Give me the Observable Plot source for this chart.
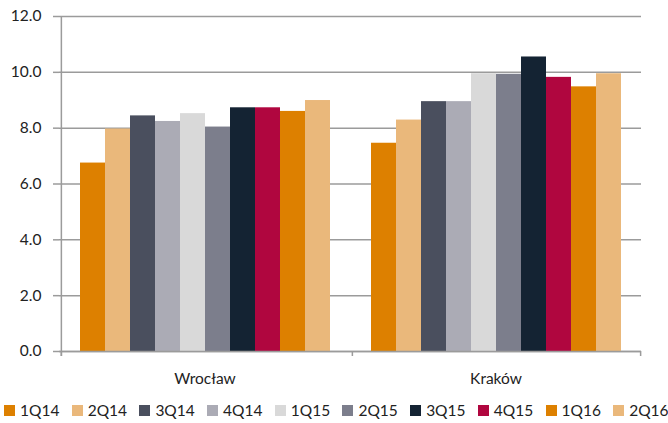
<!DOCTYPE html>
<html>
<head>
<meta charset="utf-8">
<script src="https://cdn.jsdelivr.net/npm/d3@7"></script>
<script src="https://cdn.jsdelivr.net/npm/@observablehq/plot@0.6"></script>
<style>
  body { margin: 0; background: #fff; font-family: Lato, "Open Sans", sans-serif; overflow: hidden; }
  #legend { display: flex; padding: 9px 0 0 4px; font-size: 15.5px; color: #222; white-space: nowrap; }
  .item { display: flex; align-items: center; width: 67.7px; flex: 0 0 67.7px; }
  .sw { width: 11px; height: 11px; margin-right: 5px; flex: 0 0 11px; }
</style>
</head>
<body>
<div id="chart"></div>
<script>
const cities = ["Wrocław", "Kraków"];
const quarters = ["1Q14","2Q14","3Q14","4Q14","1Q15","2Q15","3Q15","4Q15","1Q16","2Q16"];
const colors = ["#DD8000","#EAB87B","#4A4F5E","#ABABB5","#D9D9D9","#7C7E8C","#142333","#B0063F","#DD8000","#EAB87B"];
const wroclaw = [6.75, 7.97, 8.44, 8.24, 8.52, 8.04, 8.73, 8.73, 8.6, 8.99];
const krakow  = [7.46, 8.29, 8.95, 8.95, 9.95, 9.93, 10.55, 9.82, 9.48, 9.95];
const yTicks = [0, 2, 4, 6, 8, 10, 12];

const series = {"Wrocław": wroclaw, "Kraków": krakow};
const data = cities.flatMap(c => quarters.map((q, i) => ({city: c, quarter: q, value: series[c][i]})));

const W = 668, H = 392, mL = 59, mR = 27, mT = 16, mB = 41;
const facetW = (W - mL - mR) / cities.length;
const outer = 0.75;
const step = facetW / (quarters.length + 2 * outer);
const edge = outer * step + step / 2; // distance from facet edge to first band centre
const gray = "#9b9b9b";

const plot = Plot.plot({
  width: W, height: H,
  marginLeft: mL, marginRight: mR, marginTop: mT, marginBottom: mB,
  style: {fontFamily: "Lato, 'Open Sans', sans-serif", fontSize: "15.5px", color: "#222", background: "#fff"},
  fx: {domain: cities, padding: 0, label: null, axis: null},
  x: {domain: quarters, paddingInner: 0, paddingOuter: outer, axis: null},
  y: {domain: [0, 12], ticks: yTicks, label: null, axis: null},
  color: {domain: quarters, range: colors},
  marks: [
    Plot.gridY(yTicks, {stroke: gray, strokeOpacity: 1, strokeWidth: 1.5}),
    Plot.barY(data, {fx: "city", x: "quarter", y: "value", fill: "quarter"}),
    Plot.ruleY([0], {stroke: gray, strokeWidth: 1.5}),
    Plot.ruleX([cities[0]], {fx: d => d, x: () => quarters[0], dx: -edge, y1: -0.18, y2: 12, stroke: gray, strokeWidth: 1.5}),
    Plot.ruleX(cities, {fx: d => d, x: () => quarters[0], dx: -edge, y1: -0.18, y2: 0, stroke: gray, strokeWidth: 1.5}),
    Plot.ruleX([cities[cities.length - 1]], {fx: d => d, x: () => quarters[quarters.length - 1], dx: edge, y1: -0.18, y2: 0, stroke: gray, strokeWidth: 1.5}),
    Plot.axisY({ticks: yTicks, anchor: "left", tickSize: 6, tickPadding: 12, tickFormat: d3.format(".1f"), stroke: gray, strokeWidth: 1.5, label: null, fontSize: 15.5}),
    Plot.axisFx({anchor: "bottom", tickSize: 0, tickPadding: 21, label: null, fontSize: 15.5})
  ]
});
document.getElementById("chart").appendChild(plot);

const legend = document.createElement("div");
legend.id = "legend";
quarters.forEach((q, i) => {
  const it = document.createElement("div");
  it.className = "item";
  const sw = document.createElement("span");
  sw.className = "sw";
  sw.style.background = colors[i];
  const t = document.createElement("span");
  t.textContent = q;
  it.appendChild(sw); it.appendChild(t);
  legend.appendChild(it);
});
document.getElementById("chart").appendChild(legend);
</script>
</body>
</html>
